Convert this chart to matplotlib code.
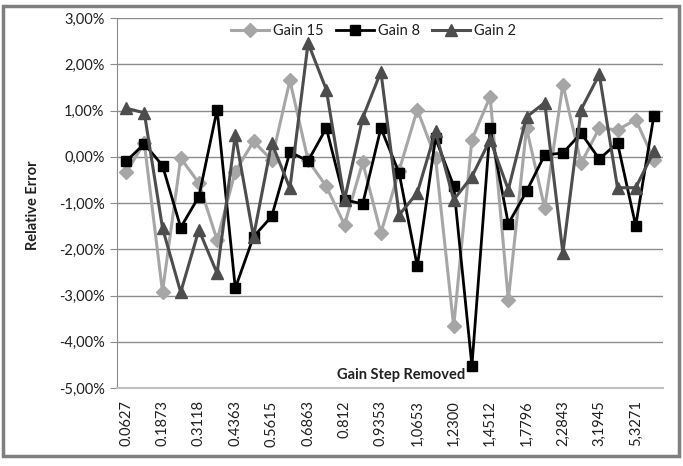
import matplotlib
matplotlib.use("Agg")
import matplotlib.pyplot as plt
from matplotlib.ticker import FuncFormatter, FixedLocator
from matplotlib.patches import Rectangle

plt.rcParams['font.family'] = ['Lato', 'DejaVu Sans']

# Visible category labels (every other category is labelled)
tick_labels = ["0.0627", "0.1873", "0.3118", "0.4363", "0.5615", "0.6863", "0.812",
               "0.9353", "1,0653", "1,2300", "1,4512", "1,7796", "2,2843", "3,1945", "5,3271"]
n_categories = 30

gain15 = [-0.34, 0.30, -2.92, -0.03, -0.57, -1.80, -0.32, 0.33, -0.07, 1.65,
          -0.08, -0.64, -1.47, -0.12, -1.65, -0.30, 1.02, -0.02, -3.67, 0.37,
          1.30, -3.09, 0.62, -1.11, 1.56, -0.14, 0.62, 0.58, 0.80, -0.06]
gain8 = [-0.10, 0.28, -0.19, -1.53, -0.86, 1.02, -2.84, -1.73, -1.29, 0.10,
         -0.09, 0.62, -0.93, -1.02, 0.62, -0.35, -2.37, 0.40, -0.63, -4.52,
         0.62, -1.45, -0.75, 0.04, 0.08, 0.51, -0.05, 0.30, -1.49, 0.89]
gain2 = [1.05, 0.95, -1.54, -2.93, -1.58, -2.52, 0.47, -1.73, 0.30, -0.68,
         2.46, 1.45, -0.93, 0.84, 1.84, -1.26, -0.78, 0.55, -0.93, -0.43,
         0.37, -0.71, 0.86, 1.17, -2.08, 1.02, 1.78, -0.67, -0.67, 0.12]

W, H = 683, 466
fig = plt.figure(figsize=(W / 100, H / 100), dpi=100)
ax = fig.add_axes([117 / W, 1 - 388 / H, 546 / W, 370 / H])

x = list(range(n_categories))
ax.plot(x, gain15, color="#A6A6A6", lw=2.2, marker="D", ms=7, mec="#A6A6A6", label="Gain 15", zorder=3)
ax.plot(x, gain8, color="#000000", lw=2.0, marker="s", ms=6.5, label="Gain 8", zorder=4)
ax.plot(x, gain2, color="#4D4D4D", lw=2.2, marker="^", ms=9, label="Gain 2", zorder=5)

ax.set_xlim(-0.5, n_categories - 0.5)
ax.set_ylim(-5, 3)
ax.yaxis.set_major_locator(FixedLocator([-5, -4, -3, -2, -1, 0, 1, 2, 3]))
ax.yaxis.set_major_formatter(FuncFormatter(lambda v, p: ("%.2f%%" % v).replace(".", ",")))
ax.set_xticks(list(range(0, n_categories, 2))[:len(tick_labels)])
ax.set_xticklabels(tick_labels, rotation=90, fontsize=10.5, color="#202020")
ax.tick_params(axis="x", length=0, pad=9)
ax.tick_params(axis="y", length=5, color="#8C8C8C", labelsize=10.5, labelcolor="#202020", pad=4)

ax.grid(axis="y", color="#8C8C8C", lw=1.0)
ax.set_axisbelow(True)
for s in ["top", "right"]:
    ax.spines[s].set_visible(False)
ax.spines["left"].set_color("#8C8C8C")
ax.spines["bottom"].set_color("#BFBFBF")
ax.spines["bottom"].set_linewidth(1.5)

ax.text(0.52, 0.035, "Gain Step Removed", transform=ax.transAxes, ha="center", va="center",
        fontsize=10.5, fontweight="bold", color="#202020")
fig.text(33 / W, 1 - 205 / H, "Relative Error", rotation=90, ha="center", va="center",
         fontsize=10.5, fontweight="bold", color="#202020")

leg = ax.legend(loc="upper center", bbox_to_anchor=(0.47, 1.02), ncol=3, frameon=False,
                fontsize=10.5, handlelength=2.6, handletextpad=0.3, columnspacing=0.8)
for t in leg.get_texts():
    t.set_color("#202020")

fig.patches.append(Rectangle((3 / W, 1 - 456 / H), 676 / W, 450 / H, transform=fig.transFigure,
                             fill=False, edgecolor="#7F7F7F", lw=2.5))

fig.savefig("out.png", dpi=100)
